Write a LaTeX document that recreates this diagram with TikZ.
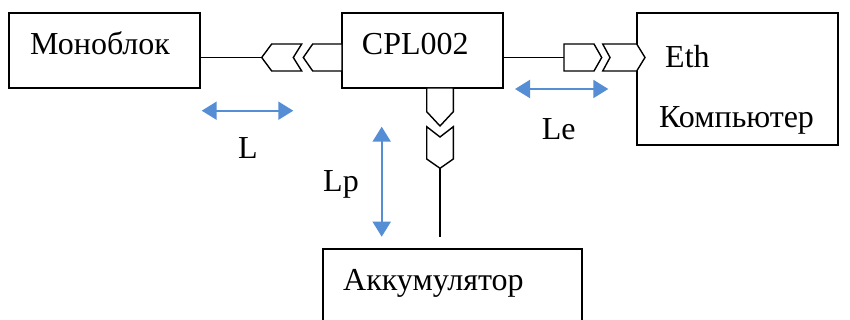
\documentclass[tikz,border=0pt]{standalone}
\usepackage{fontspec}
\setmainfont{Liberation Serif}
\usetikzlibrary{arrows.meta}
\definecolor{dimblue}{RGB}{85,142,213}

\begin{document}
\begin{tikzpicture}[x=1pt,y=-1pt,
  box/.style={draw,line width=1.4pt,inner sep=0pt,outer sep=0pt},
  plug/.style={draw,line width=1.4pt,fill=white,line join=miter},
  wire/.style={line width=1.4pt},
  dimarrow/.style={draw=dimblue,line width=2pt,{Triangle[length=15pt,width=18pt]}-{Triangle[length=15pt,width=18pt]}},
  lbl/.style={inner sep=0pt,anchor=base west,font=\fontsize{32}{38}\selectfont}]
\clip (0,0) rectangle (850,320);
% blocks
\node[box,minimum width=191pt,minimum height=75pt] (mono) at (104.5,50.5) {};
\node[box,minimum width=161pt,minimum height=75pt] (cpl) at (422.5,50.5) {};
\node[box,minimum width=201pt,minimum height=132pt] (comp) at (737.5,79) {};
\node[box,minimum width=259pt,minimum height=82pt] (akk) at (452.5,290) {};
\node[lbl] (monotxt) at (30,55) {Моноблок};
\node[lbl] (cpltxt) at (361.7,55) {CPL002};
\node[lbl] (ethtxt) at (665,68) {Eth};
\node[lbl] (comptxt) at (659,128) {Компьютер};
\node[lbl] (akktxt) at (343,290.7) {Аккумулятор};
% wires
\coordinate (ltip) at (261.7,57.5);
\coordinate (rtail) at (564,57.5);
\coordinate (dtip) at (440,168.3);
\coordinate (dend) at (440,237);
\draw[wire] (mono.east |- ltip) -- (ltip);
\draw[wire] (cpl.east |- rtail) -- (rtail);
\draw[wire] (dtip) -- (dend);
% plugs
\draw[plug] (261.7,57.5) -- (271.7,44) -- (301.7,44) -- (293.3,57.5) -- (301.7,71) -- (271.7,71) -- cycle;
\draw[plug] (303.3,57.5) -- (312.7,44) -- (342,44) -- (342,71) -- (312.7,71) -- cycle;
\draw[plug] (564,44) -- (594,44) -- (601.7,57.5) -- (594,71) -- (564,71) -- cycle;
\draw[plug] (602.7,44) -- (636.7,44) -- (645,57.5) -- (636.7,71) -- (602.7,71) -- (610,57.5) -- cycle;
\draw[plug] (426.7,88) -- (453.3,88) -- (453.3,111.7) -- (440,126) -- (426.7,111.7) -- cycle;
\draw[plug] (426.7,126.7) -- (440,137) -- (453.3,126.7) -- (453.3,159) -- (440,168.3) -- (426.7,159) -- cycle;
% distances
\coordinate (la) at (201.7,110.7);
\coordinate (lb) at (293.3,110.7);
\coordinate (lea) at (515,89);
\coordinate (leb) at (608.3,89);
\coordinate (lpa) at (381.7,126.7);
\coordinate (lpb) at (381.7,236.7);
\draw[dimarrow] (la) -- (lb);
\draw[dimarrow] (lea) -- (leb);
\draw[dimarrow] (lpa) -- (lpb);
\node[lbl] (ltxt) at (238,159) {L};
\node[lbl] (letxt) at (541.7,140) {Le};
\node[lbl] (lptxt) at (323,192) {Lp};
\end{tikzpicture}
\end{document}
